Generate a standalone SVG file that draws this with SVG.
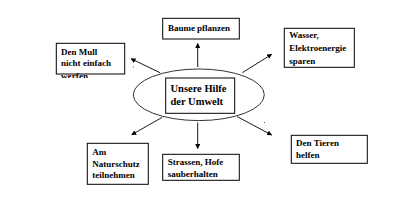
<svg xmlns="http://www.w3.org/2000/svg" width="415" height="221" viewBox="0 0 415 221">
<defs>
<style>
.box{fill:#fff;stroke:#000;stroke-width:1}
.t{font-family:"Liberation Serif","Times New Roman",serif;font-weight:bold;font-size:9px;fill:#000}
.tc{font-family:"Liberation Serif","Times New Roman",serif;font-weight:bold;font-size:10.5px;fill:#000}
.ln{stroke:#000;stroke-width:0.9;fill:none}
</style>
<marker id="ah" viewBox="0 0 10 10" refX="9" refY="5" markerWidth="5" markerHeight="5" orient="auto" markerUnits="userSpaceOnUse">
<path d="M0,0 L10,5 L0,10 z" fill="#000"/>
</marker>
<clipPath id="cm"><rect x="50" y="40" width="90" height="38"/></clipPath>
</defs>
<rect width="415" height="221" fill="#fff"/>
<g id="connectors">
<line class="ln" x1="197.7" y1="67" x2="197.7" y2="43.5" marker-end="url(#ah)"/>
<line class="ln" x1="197.7" y1="122.5" x2="197.7" y2="148.5" marker-end="url(#ah)"/>
<line class="ln" x1="160" y1="72.7" x2="131" y2="58.7" marker-end="url(#ah)"/>
<line class="ln" x1="242.3" y1="72.7" x2="271.7" y2="54.3" marker-end="url(#ah)"/>
<line class="ln" x1="162.3" y1="117.3" x2="131.7" y2="134.7" marker-end="url(#ah)"/>
<line class="ln" x1="237.3" y1="116.7" x2="271.7" y2="135" marker-end="url(#ah)"/>
<rect x="133" y="66.5" width="0.8" height="0.8" fill="#000"/>
<rect x="264" y="122" width="0.8" height="0.8" fill="#000"/>
<rect x="197.5" y="47" width="0.8" height="0.8" fill="#000"/>
</g>
<g id="center">
<ellipse cx="198.8" cy="94.8" rx="65.5" ry="25.8" fill="#fff" stroke="#000" stroke-width="0.8"/>
<rect class="box" x="165.7" y="78" width="69" height="35.3"/>
<text class="tc" x="170.5" y="91.5" textLength="56" lengthAdjust="spacing">Unsere Hilfe</text>
<text class="tc" x="170.5" y="105">der Umwelt</text>
</g>
<g id="baume">
<rect class="box" x="162.7" y="18.3" width="76.6" height="20.7"/>
<text class="t" x="168" y="30.5" textLength="62" lengthAdjust="spacing">Baume pflanzen</text>
</g>
<g id="mull">
<rect class="box" x="56.3" y="43.3" width="68.4" height="30.7"/>
<text class="t" x="61" y="54.7">Den Mull</text>
<text class="t" x="61" y="66.3" textLength="50" lengthAdjust="spacing">nicht einfach</text>
<text class="t" x="61" y="79" clip-path="url(#cm)" textLength="27" lengthAdjust="spacing">werfen</text>
</g>
<g id="wasser">
<rect class="box" x="284.3" y="28.3" width="70" height="39"/>
<text class="t" x="289.3" y="38">Wasser,</text>
<text class="t" x="289.3" y="51" textLength="57" lengthAdjust="spacing">Elektroenergie</text>
<text class="t" x="289.3" y="64">sparen</text>
</g>
<g id="natur">
<rect class="box" x="87.3" y="143.3" width="61" height="41"/>
<text class="t" x="92.3" y="155">Am</text>
<text class="t" x="92.3" y="167">Naturschutz</text>
<text class="t" x="92.3" y="178">teilnehmen</text>
</g>
<g id="strassen">
<rect class="box" x="162.7" y="154.3" width="76.6" height="26"/>
<text class="t" x="167.7" y="165.3">Strassen, Hofe</text>
<text class="t" x="167.7" y="177">sauberhalten</text>
</g>
<g id="tiere">
<rect class="box" x="291.3" y="135.3" width="76" height="28"/>
<text class="t" x="296" y="146.3" textLength="43" lengthAdjust="spacing">Den Tieren</text>
<text class="t" x="296" y="158">helfen</text>
</g>
</svg>
